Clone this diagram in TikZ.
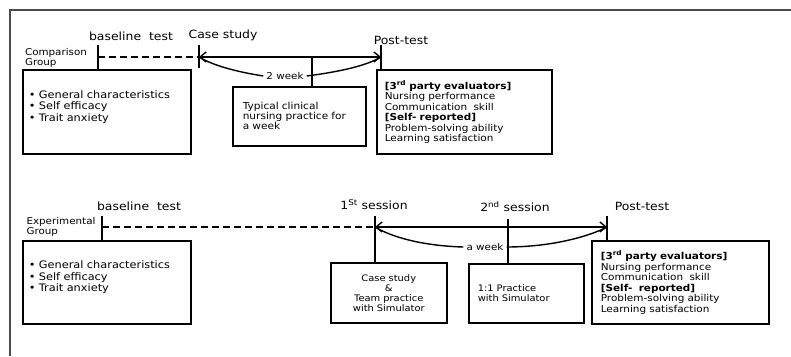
\documentclass[tikz,border=0pt]{standalone}
\usepackage{fontspec}
\setmainfont{DejaVu Sans}[FakeStretch=1.1]
\usetikzlibrary{arrows.meta, positioning}
\newcommand{\fsz}[2]{\fontsize{#1}{#2}\selectfont}
\tikzset{
    steplabel/.style={font=\fsz{11.3}{13}, inner sep=0pt},
    grouplabel/.style={font=\fsz{9.4}{10}, align=left, inner sep=0pt},
    spanlabel/.style={font=\fsz{9.4}{11}, inner sep=3pt},
    infobox/.style={rectangle, draw=black, line width=1.6pt, anchor=north west,
                    align=left, inner ysep=2pt},
    markline/.style={line width=1.6pt},
    waitline/.style={line width=1.6pt, dash pattern=on 7pt off 4pt},
    spanarrow/.style={{Straight Barb[length=6pt,width=10pt]}-{Straight Barb[length=6pt,width=10pt]},
                      line width=1.4pt},
    bendline/.style={line width=1.4pt},
    frameline/.style={draw=black!70, line width=2pt},
}

\begin{document}
\begin{tikzpicture}[x=1pt, y=-1pt]
    \useasboundingbox (0,0) rectangle (791,356);
    \coordinate (fa) at (10,356);
    \coordinate (fb) at (10,10);
    \coordinate (fc) at (791,10);
    \draw[frameline] (fa) -- (fb) -- (fc);

    % comparison group
    \node[steplabel] (cbase) at (131,36) {baseline\ \ test};
    \node[steplabel] (ccase) at (223,35) {Case study};
    \node[steplabel] (cpost) at (401,40) {Post-test};
    \node[grouplabel] (cgroup) at (56,58) {Comparison\\Group};
    \node[infobox, font=\fsz{10.3}{11.5}, minimum width=168pt, minimum height=84pt,
          text width=156pt, inner xsep=6pt] (cpre) at (22,69)
        {• General characteristics\\
         • Self efficacy\\
         • Trait anxiety\\ \mbox{}};
    \node[infobox, font=\fsz{9.6}{10}, minimum width=133pt, minimum height=59pt,
          text width=113pt, inner xsep=10pt] (cpract) at (232,86)
        {Typical clinical\\
         nursing practice for\\
         a week};
    \node[infobox, font=\fsz{9.5}{10.5}, minimum width=175pt, minimum height=84pt,
          text width=159pt, inner xsep=8pt] (cout) at (376,69)
        {\textbf{[3\textsuperscript{rd} party\ evaluators]}\\
         Nursing performance\\
         Communication\ \ skill\\
         \textbf{[Self- reported]}\\
         Problem-solving ability\\
         Learning satisfaction};
    \coordinate (cb) at (98,57);
    \coordinate (cc) at (199,57);
    \coordinate (cm) at (312,57);
    \coordinate (cp) at (381,57);
    \node[spanlabel] (cweek) at (285,76) {2 week};
    \draw[markline] ([yshift=12pt]cb) -- (cb |- cpre.north);
    \draw[markline] ([yshift=12pt]cc) -- ([yshift=-11pt]cc);
    \draw[markline] ([yshift=12pt]cp) -- (cp |- cout.north);
    \draw[markline] (cm) -- (cm |- cpract.north);
    \draw[waitline] (cb) -- (cc);
    \draw[spanarrow] (cc) -- (cp);
    \draw[bendline] (cc) .. controls (214,66) and (238,72) .. (cweek.west);
    \draw[bendline] (cweek.east) .. controls (338,72) and (366,66) .. (cp);

    % experimental group
    \node[steplabel] (ebase) at (139,206) {baseline\ \ test};
    \node[steplabel] (efirst) at (374,205) {1\textsuperscript{St} session};
    \node[steplabel] (esecond) at (515,207) {2\textsuperscript{nd} session};
    \node[steplabel] (epost) at (642,206) {Post-test};
    \node[grouplabel] (egroup) at (61,227) {Experimental\\Group};
    \node[infobox, font=\fsz{10.3}{11.5}, minimum width=168pt, minimum height=83pt,
          text width=156pt, inner xsep=6pt] (epre) at (22,240)
        {• General characteristics\\
         • Self efficacy\\
         • Trait anxiety\\ \mbox{}};
    \node[infobox, font=\fsz{9}{10}, minimum width=116pt, minimum height=60pt,
          text width=104pt, inner xsep=6pt, align=center] (ecase) at (330,262)
        {Case study\\
         \&\\
         Team practice\\
         with Simulator};
    \node[infobox, font=\fsz{9}{10}, minimum width=115pt, minimum height=59pt,
          text width=97pt, inner xsep=9pt] (esim) at (468,263)
        {1:1 Practice\\
         with Simulator\\[4pt]};
    \node[infobox, font=\fsz{9.5}{10.5}, minimum width=177pt, minimum height=83pt,
          text width=159pt, inner xsep=9pt] (eout) at (591,240)
        {\textbf{[3\textsuperscript{rd} party\ evaluators]}\\
         Nursing performance\\
         Communication\ \ skill\\
         \textbf{[Self-\ \ reported]}\\
         Problem-solving ability\\
         Learning satisfaction};
    \coordinate (eb) at (102,227);
    \coordinate (es) at (375,227);
    \coordinate (em) at (508,227);
    \coordinate (ep) at (607,227);
    \node[spanlabel] (eweek) at (485,247) {a week};
    \draw[markline] ([yshift=11pt]eb) -- (eb |- epre.north);
    \draw[markline] ([yshift=11pt]es) -- (es |- ecase.north);
    \draw[markline] ([yshift=8pt]em) -- (em |- esim.north);
    \draw[markline] ([yshift=11pt]ep) -- (ep |- eout.north);
    \draw[waitline] (eb) -- (es);
    \draw[spanarrow] (es) -- (ep);
    \draw[bendline] (es) .. controls (395,239) and (428,246) .. (eweek.west);
    \draw[bendline] (eweek.east) .. controls (550,247) and (588,237) .. (ep);
\end{tikzpicture}
\end{document}
